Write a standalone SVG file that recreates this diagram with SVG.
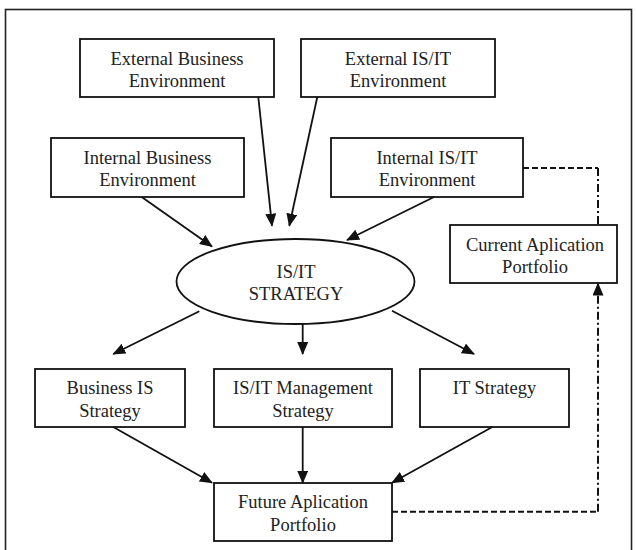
<svg xmlns="http://www.w3.org/2000/svg" width="636" height="550" viewBox="0 0 636 550">
<style>
.box{fill:#fff;stroke:#111;stroke-width:1.8}
.t{font-family:"Liberation Serif","Times New Roman",serif;font-size:18.5px;fill:#222;text-anchor:middle}
.ln{stroke:#111;stroke-width:1.8;fill:none}
.dash{stroke:#111;stroke-width:2;fill:none;stroke-dasharray:6 3}
.dd{stroke:#111;stroke-width:2;fill:none;stroke-dasharray:8 3 2 3}
</style>
<defs>
<marker id="ah" markerWidth="13" markerHeight="11" refX="12" refY="5.5" orient="auto" markerUnits="userSpaceOnUse">
<path d="M0,0 L13,5.5 L0,11 Z" fill="#111"/>
</marker>
</defs>
<rect x="5.5" y="9.5" width="626" height="570" fill="none" stroke="#222" stroke-width="1.6"/>
<g id="ext-business">
<rect class="box" x="80" y="39" width="194" height="58"/>
<text class="t" x="177" y="64.5">External Business</text>
<text class="t" x="177" y="87">Environment</text>
</g>
<g id="ext-isit">
<rect class="box" x="301" y="39" width="194" height="58"/>
<text class="t" x="398" y="64.5">External IS/IT</text>
<text class="t" x="398" y="87">Environment</text>
</g>
<g id="int-business">
<rect class="box" x="51" y="138" width="193" height="59"/>
<text class="t" x="147.5" y="163.5">Internal Business</text>
<text class="t" x="147.5" y="186">Environment</text>
</g>
<g id="int-isit">
<rect class="box" x="331" y="138" width="192" height="59"/>
<text class="t" x="427" y="163.5">Internal IS/IT</text>
<text class="t" x="427" y="186">Environment</text>
</g>
<g id="strategy">
<ellipse cx="295.5" cy="281.5" rx="119" ry="42.5" fill="#fff" stroke="#111" stroke-width="1.8"/>
<text class="t" x="296" y="277.5">IS/IT</text>
<text class="t" x="296" y="299.5">STRATEGY</text>
</g>
<g id="current-portfolio">
<rect class="box" x="450" y="225" width="167" height="58"/>
<text class="t" x="535" y="250.5">Current Aplication</text>
<text class="t" x="535" y="273">Portfolio</text>
</g>
<g id="business-is">
<rect class="box" x="35" y="369" width="150" height="58"/>
<text class="t" x="110" y="394">Business IS</text>
<text class="t" x="110" y="416.5">Strategy</text>
</g>
<g id="isit-mgmt">
<rect class="box" x="214" y="369" width="178" height="58"/>
<text class="t" x="303" y="394">IS/IT Management</text>
<text class="t" x="303" y="416.5">Strategy</text>
</g>
<g id="it-strategy">
<rect class="box" x="420" y="369" width="149" height="58"/>
<text class="t" x="494.5" y="394">IT Strategy</text>
</g>
<g id="future-portfolio">
<rect class="box" x="214" y="483" width="178" height="58"/>
<text class="t" x="303" y="508">Future Aplication</text>
<text class="t" x="303" y="531">Portfolio</text>
</g>
<g id="connectors">
<line class="ln" x1="258.3" y1="97" x2="272" y2="225.7" marker-end="url(#ah)"/>
<line class="ln" x1="317.3" y1="97" x2="289.3" y2="225.7" marker-end="url(#ah)"/>
<line class="ln" x1="141.7" y1="197" x2="212" y2="246.5" marker-end="url(#ah)"/>
<line class="ln" x1="434" y1="197" x2="347" y2="240" marker-end="url(#ah)"/>
<line class="ln" x1="199.3" y1="311.3" x2="113.3" y2="354" marker-end="url(#ah)"/>
<line class="ln" x1="302.7" y1="324" x2="302.7" y2="354" marker-end="url(#ah)"/>
<line class="ln" x1="392" y1="310.7" x2="474" y2="354" marker-end="url(#ah)"/>
<line class="ln" x1="113.3" y1="427" x2="212" y2="482.7" marker-end="url(#ah)"/>
<line class="ln" x1="302.7" y1="427" x2="302.7" y2="482.7" marker-end="url(#ah)"/>
<line class="ln" x1="492.3" y1="427" x2="392" y2="482.7" marker-end="url(#ah)"/>
<path class="dash" d="M523,168 H598"/>
<path class="dd" d="M598,168 V225"/>
<path class="dash" d="M392,511.7 H598"/>
<path class="dd" d="M598,511.7 V283.5" marker-end="url(#ah)"/>
</g>
</svg>
